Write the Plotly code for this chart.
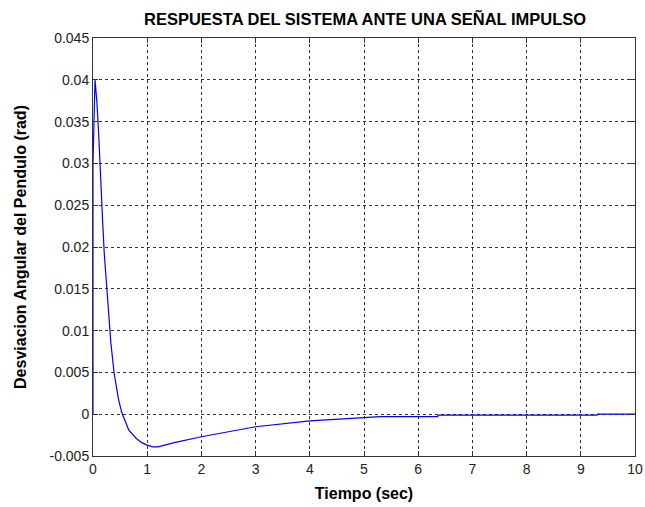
import plotly.graph_objects as go

# Data (time in s, angle in rad)
t_vals = [0.0, 0.0, 0.037, 0.073, 0.104, 0.128, 0.159, 0.177, 0.207, 0.25, 0.298, 0.33,
          0.39, 0.47, 0.53, 0.57, 0.66, 0.8, 0.9, 1.0, 1.1, 1.2, 1.5, 2.0, 2.5, 3.0,
          4.0, 5.0, 5.3, 6.36, 6.37, 9.3, 9.31, 10.0]
y_vals = [0.0, 0.030, 0.040, 0.0372, 0.0336, 0.0295, 0.026, 0.0232, 0.0193, 0.0152, 0.0104, 0.0085,
          0.0049, 0.0018, 0.0002, -0.0004, -0.0019, -0.0029, -0.0034, -0.0037, -0.0039, -0.0039,
          -0.0034, -0.0027, -0.0021, -0.0015, -0.0008, -0.00045, -0.0003, -0.0003, -0.0001,
          -0.0001, 0.0, 0.0]

x_ticks = [0, 1, 2, 3, 4, 5, 6, 7, 8, 9, 10]
x_tick_text = ["0", "1", "2", "3", "4", "5", "6", "7", "8", "9", "10"]
y_ticks = [-0.005, 0, 0.005, 0.01, 0.015, 0.02, 0.025, 0.03, 0.035, 0.04, 0.045]
y_tick_text = ["-0.005", "0", "0.005", "0.01", "0.015", "0.02", "0.025", "0.03", "0.035", "0.04", "0.045"]

title_text = "RESPUESTA DEL SISTEMA ANTE UNA SEÑAL IMPULSO"
x_title = "Tiempo (sec)"
y_title = "Desviacion Angular del Pendulo (rad)"

fig = go.Figure()
fig.add_trace(go.Scatter(x=t_vals, y=y_vals, mode="lines",
                         line=dict(color="#0000FF", width=1.2), showlegend=False))

font_family = "Liberation Sans, Arial, sans-serif"
axis_common = dict(
    showline=True, mirror="ticks", linecolor="#333333", linewidth=1,
    ticks="inside", ticklen=5, tickcolor="#333333",
    showgrid=True, gridcolor="#333333", gridwidth=1, griddash="3px,3px",
    zeroline=False,
    tickfont=dict(family=font_family, size=14, color="#222222"),
    ticklabeloverflow="allow",
    automargin=False,
)

fig.update_layout(
    width=645, height=507,
    margin=dict(l=93, r=10, t=38, b=51),
    paper_bgcolor="white", plot_bgcolor="white",
    title=dict(text="<b>" + title_text + "</b>", x=0.566, xanchor="center", y=0.963, yanchor="middle",
               font=dict(family=font_family, size=16.5, color="black")),
    xaxis=dict(range=[0, 10.0001], tickvals=x_ticks, ticktext=x_tick_text,
               title=dict(text="<b>" + x_title + "</b>", standoff=12,
                          font=dict(family=font_family, size=16, color="black")),
               **axis_common),
    yaxis=dict(range=[-0.005, 0.045], tickvals=y_ticks, ticktext=y_tick_text,
               title=dict(text="<b>" + y_title + "</b>", standoff=18,
                          font=dict(family=font_family, size=16, color="black")),
               **axis_common),
)

fig.write_html("out.html")
